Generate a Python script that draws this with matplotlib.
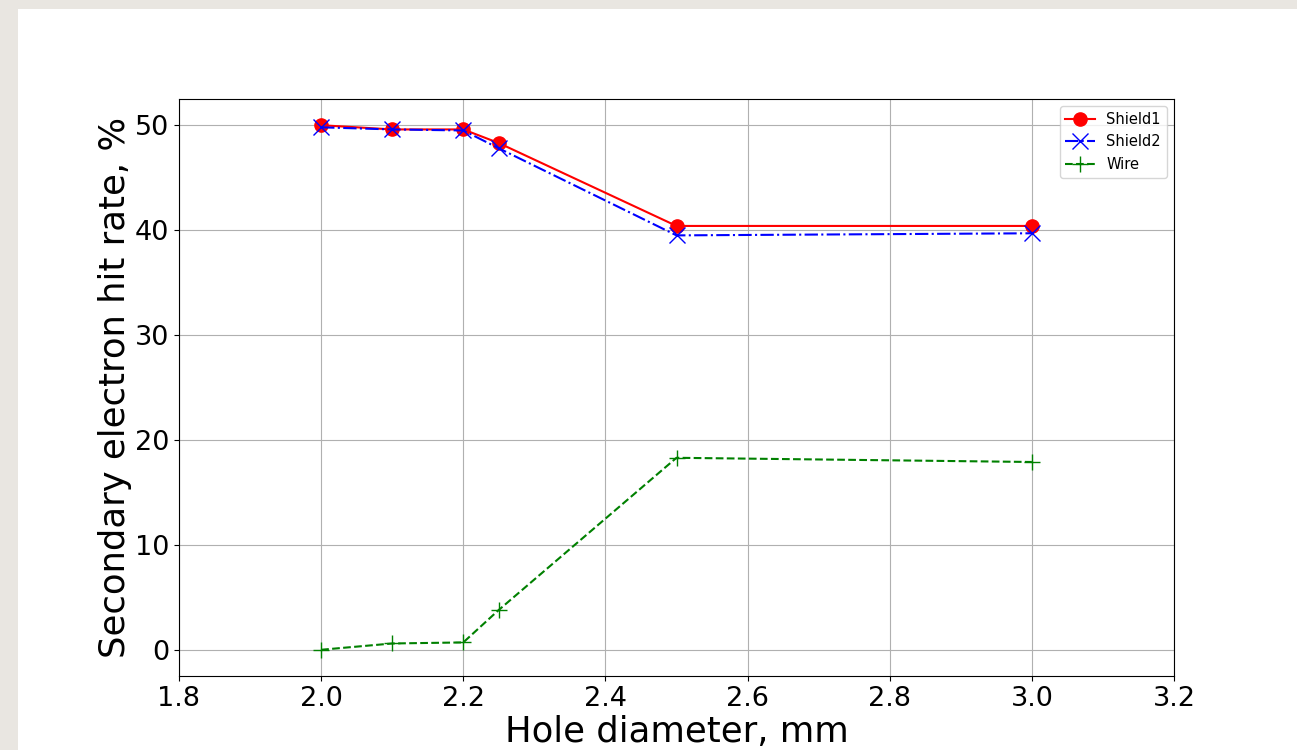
import matplotlib
matplotlib.use("Agg")
import matplotlib.pyplot as plt
from matplotlib.patches import Rectangle

# hole diameters, mm
diameters = [2.0, 2.1, 2.2, 2.25, 2.5, 3.0]

# secondary electron hit rate, %
shield1 = [50.0, 49.6, 49.6, 48.3, 40.4, 40.4]
shield2 = [49.8, 49.6, 49.5, 47.8, 39.5, 39.7]
wire = [0.0, 0.6, 0.7, 3.8, 18.3, 17.9]

x_ticks = [1.8, 2.0, 2.2, 2.4, 2.6, 2.8, 3.0, 3.2]

fig = plt.figure(figsize=(12.97, 7.5), dpi=100, facecolor='#e9e6e1')
# white page on top of the beige background (kept behind the axes)
fig.patches.append(Rectangle((18 / 1297, 0), 1, 1 - 9 / 750, transform=fig.transFigure,
                             facecolor='white', edgecolor='none', zorder=-10))

ax = fig.add_axes([179 / 1297, 74 / 750, 995 / 1297, 577 / 750])
ax.plot(diameters, shield1, 'ro-', markersize=9.5, linewidth=1.5, label='Shield1')
ax.plot(diameters, shield2, 'bx-.', markersize=11, linewidth=1.5, label='Shield2')
ax.plot(diameters, wire, 'g+--', markersize=11, linewidth=1.5, label='Wire')

ax.set_xlim(1.8, 3.2)
ax.set_xticks(x_ticks)
ax.set_xticklabels([f'{t:.1f}' for t in x_ticks])
ax.tick_params(labelsize=19.5)
ax.grid(True, color='#b0b0b0')
ax.set_xlabel('Hole diameter, mm', fontsize=25.5, labelpad=2)
ax.set_ylabel('Secondary electron hit rate, %', fontsize=25.5, labelpad=2)
ax.legend(loc='upper right', fontsize=10.5)

fig.savefig('out.png', dpi=100, facecolor=fig.get_facecolor())
